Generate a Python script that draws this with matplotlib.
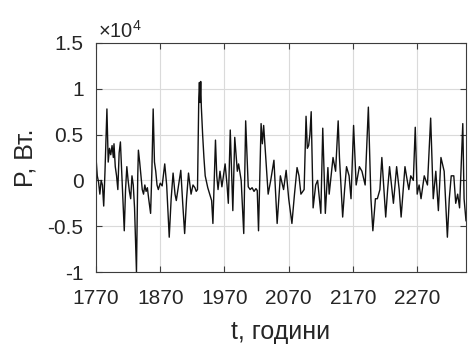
import numpy as np
import matplotlib
matplotlib.use('Agg')
import matplotlib.pyplot as plt
from matplotlib.ticker import FixedLocator, FuncFormatter

plt.rcParams['font.family'] = ['Liberation Sans', 'DejaVu Sans']
plt.rcParams['mathtext.fontset'] = 'custom'
plt.rcParams['mathtext.rm'] = 'Liberation Sans'

# power series, W
years = [1770, 1772, 1774, 1776, 1778, 1780, 1782, 1784, 1787, 1789,
         1791, 1793, 1795, 1797, 1798, 1800, 1802, 1804, 1806, 1808,
         1810, 1812, 1814, 1816, 1818, 1820, 1822, 1824, 1826, 1828,
         1830, 1833, 1835, 1836, 1838, 1840, 1842, 1844, 1846, 1848,
         1850, 1852, 1855, 1857, 1859, 1861, 1863, 1865, 1867, 1870,
         1873, 1877, 1880, 1884, 1887, 1890, 1893, 1895, 1899, 1902,
         1905, 1908, 1911, 1914, 1918, 1921, 1924, 1926, 1928, 1930,
         1931, 1932, 1933, 1934, 1936, 1938, 1940, 1944, 1947, 1950,
         1952, 1956, 1958, 1960, 1963, 1966, 1971, 1974, 1976, 1979,
         1983, 1986, 1990, 1992, 1996, 2000, 2003, 2007, 2010, 2013,
         2016, 2019, 2021, 2023, 2027, 2029, 2031, 2034, 2038, 2042,
         2047, 2052, 2057, 2062, 2066, 2070, 2075, 2079, 2083, 2086,
         2089, 2094, 2097, 2099, 2101, 2103, 2105, 2108, 2112, 2115,
         2120, 2123, 2127, 2131, 2133, 2136, 2139, 2143, 2147, 2149,
         2154, 2157, 2160, 2164, 2167, 2171, 2175, 2180, 2184, 2189,
         2194, 2198, 2201, 2205, 2208, 2212, 2215, 2221, 2224, 2227,
         2233, 2238, 2242, 2245, 2251, 2254, 2257, 2260, 2264, 2267,
         2270, 2273, 2276, 2281, 2286, 2291, 2295, 2299, 2303, 2307,
         2312, 2317, 2320, 2323, 2327, 2330, 2333, 2336, 2341, 2343,
         2346]
power = [2500, 500, -200, -1500, 0, -500, -2800, 1000, 7800, 2000,
         3500, 2800, 3800, 2500, 4000, 1500, 500, -1000, 3000, 4200,
         1000, -2000, -5500, -1000, 1500, 0, -1200, -2000, 500, -500,
         -3000, -10000, 500, 3300, 2000, 500, -1000, -1500, -500, -1200,
         -800, -2000, -3600, 1000, 7800, 2000, 1000, -500, -1000, -300,
         -600, 1800, -500, -6200, -2000, 800, -1500, -2200, -300, 1100,
         -2500, -5800, -2000, 800, -1500, -500, -800, -1200, -1000, 9000,
         10700, 8500, 10800, 8000, 5000, 2500, 500, -800, -1500, -2200,
         -4700, 4400, 500, -1000, 1000, -700, 1800, -500, -2500, 5500,
         -3300, 4700, 1000, 1800, 0, -5800, 6500, -700, -1000, -800,
         -1200, -900, -1100, -5500, 6200, 4000, 6000, 2800, -1500, 0,
         2200, -4700, 500, -1000, 1100, -2000, -4700, -1500, 1400, 500,
         -1500, -1000, 7000, 3500, 3800, 5000, 7500, -3000, -500, 0,
         -3600, 5700, -3600, 1400, -1500, 500, 2500, 1000, 6500, 2500,
         -4000, -1000, 1500, 500, -2000, 6000, -500, 1500, 1000, -500,
         8000, -2000, -5500, -2000, -2000, -1000, 2500, -4000, -1000, 1500,
         -2500, 1500, -1000, -4000, 1500, 200, -1000, 500, 0, 5800,
         -1500, -500, -2000, 500, -500, 6800, -2000, 1000, -3300, 2500,
         1000, -6200, -2000, 500, 500, -2500, -1500, -3000, 6200, -2000,
         -4400]

yticks = [-10000, -5000, 0, 5000, 10000, 15000]
xticks = [1770, 1870, 1970, 2070, 2170, 2270]

fig = plt.figure(figsize=(4.69, 3.47), dpi=100)
ax = fig.add_axes([96 / 469, 75 / 347, 370 / 469, 229 / 347])

ax.plot(years, power, color='#111111', linewidth=1.0)

ax.set_xlim(1770, 2346)
ax.set_ylim(-10000, 15000)
ax.xaxis.set_major_locator(FixedLocator(xticks))
ax.yaxis.set_major_locator(FixedLocator(yticks))
ax.yaxis.set_major_formatter(FuncFormatter(lambda v, p: '%g' % (v / 1e4)))

ax.grid(True, color='#dadada', linewidth=0.8)
for s in ax.spines.values():
    s.set_color('#3c3c3c')
    s.set_linewidth(0.8)
ax.tick_params(direction='in', length=4, width=0.8, colors='#3c3c3c',
               labelcolor='#262626', labelsize=15, top=True, right=True)
ax.tick_params(axis='x', pad=12)
ax.tick_params(axis='y', pad=9)

ax.text(0.005, 1.022, '×10$^\\mathregular{4}$', transform=ax.transAxes,
        fontsize=14.5, color='#262626', va='baseline', ha='left')

ax.set_xlabel('t, години', fontsize=18, color='#262626', labelpad=9)
ax.set_ylabel('P, Вт.', fontsize=18, color='#262626', labelpad=7)

fig.savefig('out.png', dpi=100)
